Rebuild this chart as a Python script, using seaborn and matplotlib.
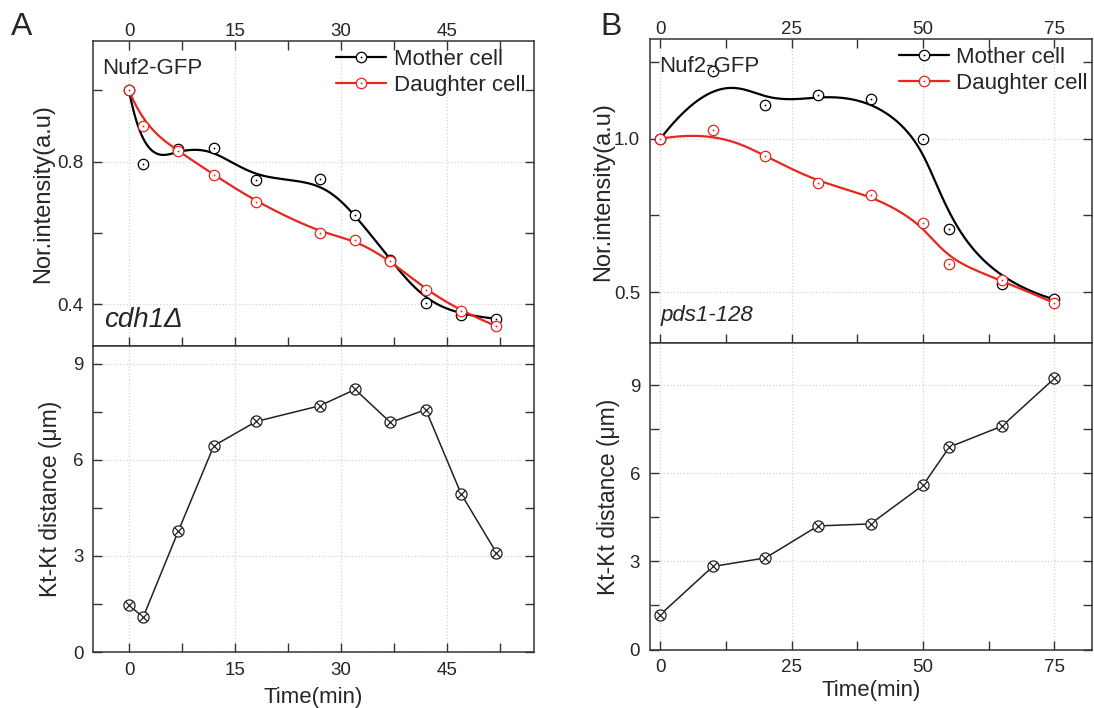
import numpy as np
import matplotlib
matplotlib.use("Agg")
import matplotlib.pyplot as plt
from matplotlib.lines import Line2D
from matplotlib.ticker import MultipleLocator
import seaborn as sns

# Panel A: cdh1Δ
time_a = [0, 2, 7, 12, 18, 27, 32, 37, 42, 47, 52]
mother_a = [1.0, 0.793, 0.836, 0.837, 0.748, 0.751, 0.652, 0.525, 0.404, 0.370, 0.360]
daughter_a = [1.0, 0.901, 0.829, 0.764, 0.687, 0.601, 0.581, 0.523, 0.440, 0.381, 0.339]
ktkt_a = [1.46, 1.09, 3.79, 6.44, 7.20, 7.69, 8.20, 7.17, 7.57, 4.94, 3.10]

# Panel B: pds1-128
time_b = [0, 10, 20, 30, 40, 50, 55, 65, 75]
mother_b = [1.0, 1.220, 1.110, 1.141, 1.130, 0.998, 0.705, 0.527, 0.476]
daughter_b = [1.0, 1.028, 0.944, 0.857, 0.817, 0.724, 0.591, 0.540, 0.464]
ktkt_b = [1.19, 2.83, 3.12, 4.21, 4.28, 5.60, 6.90, 7.61, 9.24]

RED = "#e8261c"
DARK = "#222222"

sns.set_style("white")
plt.rcParams["font.family"] = ["Liberation Sans", "DejaVu Sans"]


def bspline(xs, ys, k=3, num=400):
    # clamped cubic B-spline that uses the data points as control points
    pts = np.column_stack([xs, ys]).astype(float)
    n = len(pts)
    knots = np.concatenate([np.zeros(k), np.linspace(0, 1, n - k + 1), np.ones(k)])
    u = np.linspace(0, 1, num)
    N = np.zeros((num, len(knots) - 1))
    for i in range(len(knots) - 1):
        N[:, i] = (u >= knots[i]) & (u < knots[i + 1])
    N[u >= 1.0, n - 1] = 1.0
    for d in range(1, k + 1):
        new = np.zeros((num, len(knots) - 1 - d))
        for i in range(len(knots) - 1 - d):
            den1 = knots[i + d] - knots[i]
            den2 = knots[i + d + 1] - knots[i + 1]
            left = (u - knots[i]) / den1 * N[:, i] if den1 > 0 else 0
            right = (knots[i + d + 1] - u) / den2 * N[:, i + 1] if den2 > 0 else 0
            new[:, i] = left + right
        N = new
    curve = N @ pts
    return curve[:, 0], curve[:, 1]


def style_axes(ax, xlim, xstep, ylim, ystep, top_panel):
    ax.set_xlim(*xlim)
    ax.set_ylim(*ylim)
    ax.xaxis.set_major_locator(MultipleLocator(xstep))
    ax.xaxis.set_minor_locator(MultipleLocator(xstep / 2))
    ax.yaxis.set_major_locator(MultipleLocator(ystep))
    ax.yaxis.set_minor_locator(MultipleLocator(ystep / 2))
    ax.tick_params(which="both", direction="in", length=6.5, width=1.0,
                   color="#333333", left=True, right=True, bottom=True,
                   top=top_panel, labelsize=13.5)
    ax.tick_params(axis="y", pad=7)
    if top_panel:
        ax.tick_params(axis="x", labeltop=True, labelbottom=False, pad=1)
    else:
        ax.tick_params(axis="x", pad=7)
    ax.grid(True, which="major", ls=":", color="#d4d4d4", lw=0.9)
    for sp in ax.spines.values():
        sp.set_linewidth(1.1)
        sp.set_color("#333333")
    ax.set_xlabel("")


def draw_intensity(ax, t, mother, daughter):
    for vals, color in ((mother, "black"), (daughter, RED)):
        cx, cy = bspline(t, vals)
        sns.lineplot(x=cx, y=cy, sort=False, estimator=None, color=color, lw=1.6, ax=ax)
        sns.lineplot(x=t, y=vals, sort=False, estimator=None, color=color, ls="none",
                     marker="o", markersize=7.5, mfc="white", mec=color, mew=0.9, ax=ax)
        sns.lineplot(x=t, y=vals, sort=False, estimator=None, color=color, ls="none",
                     marker="o", markersize=1.3, mfc=color, mec=color, mew=0, ax=ax)
    handles = []
    for color in ("black", RED):
        ring = Line2D([], [], color=color, lw=1.6, marker="o", markersize=7.5,
                      mfc="white", mec=color, mew=0.9)
        dot = Line2D([], [], color=color, ls="none", marker="o", markersize=1.3, mew=0)
        handles.append((ring, dot))
    return handles


def draw_ktkt(ax, t, kt):
    sns.lineplot(x=t, y=kt, sort=False, estimator=None, color=DARK, lw=1.1,
                 marker="o", markersize=8, mfc="white", mec=DARK, mew=0.9, ax=ax)
    sns.lineplot(x=t, y=kt, sort=False, estimator=None, color=DARK, ls="none",
                 marker="x", markersize=5.6, mec=DARK, mew=0.9, ax=ax)


fig = plt.figure(figsize=(10.94, 7.08), dpi=100)

panels = [
    dict(left=0.085, width=0.403, top=0.942, mid=0.511, bottom=0.079,
         t=time_a, m=mother_a, d=daughter_a, kt=ktkt_a,
         xlim=(-5.1, 57.3), xstep=15, ylim_top=(0.283, 1.138), ystep_top=0.4,
         ylim_bot=(0, 9.55), letter="A", letter_x=0.010, strain="cdh1Δ", strain_size=20,
         strain_y=0.085, leg_x=0.551, ylab_top=-0.088, ylab_bot=-0.070, xlab_pad=6),
    dict(left=0.594, width=0.404, top=0.945, mid=0.515, bottom=0.0826,
         t=time_b, m=mother_b, d=daughter_b, kt=ktkt_b,
         xlim=(-2.0, 82.1), xstep=25, ylim_top=(0.333, 1.325), ystep_top=0.5,
         ylim_bot=(0, 10.43), letter="B", letter_x=0.549, strain="pds1-128", strain_size=16,
         strain_y=0.093, leg_x=0.563, ylab_top=-0.081, ylab_bot=-0.068, xlab_pad=3),
]

for p in panels:
    ax_top = fig.add_axes([p["left"], p["mid"], p["width"], p["top"] - p["mid"]])
    ax_bot = fig.add_axes([p["left"], p["bottom"], p["width"], p["mid"] - p["bottom"]])

    handles = draw_intensity(ax_top, p["t"], p["m"], p["d"])
    draw_ktkt(ax_bot, p["t"], p["kt"])

    style_axes(ax_top, p["xlim"], p["xstep"], p["ylim_top"], p["ystep_top"], True)
    style_axes(ax_bot, p["xlim"], p["xstep"], p["ylim_bot"], 3, False)

    ax_top.set_ylabel("Nor.intensity(a.u)", fontsize=17)
    ax_top.yaxis.set_label_coords(p["ylab_top"], 0.5)
    ax_bot.set_ylabel("Kt-Kt distance (μm)", fontsize=16.5)
    ax_bot.yaxis.set_label_coords(p["ylab_bot"], 0.5)
    ax_bot.set_xlabel("Time(min)", fontsize=16, labelpad=p["xlab_pad"])

    ax_top.text(0.02, 0.91, "Nuf2-GFP", transform=ax_top.transAxes,
                fontsize=16, va="center", ha="left")
    ax_top.text(0.025, p["strain_y"], p["strain"], transform=ax_top.transAxes,
                fontsize=p["strain_size"], style="italic", va="center", ha="left")

    ax_top.legend(handles, ["Mother cell", "Daughter cell"], loc="upper left",
                  bbox_to_anchor=(p["leg_x"], 0.975), frameon=False, fontsize=16,
                  handlelength=2.25, handletextpad=0.35, labelspacing=0.25,
                  borderpad=0, borderaxespad=0)

    fig.text(p["letter_x"], 0.962, p["letter"], fontsize=23, va="center", ha="left")

fig.savefig("out.png", dpi=100)
